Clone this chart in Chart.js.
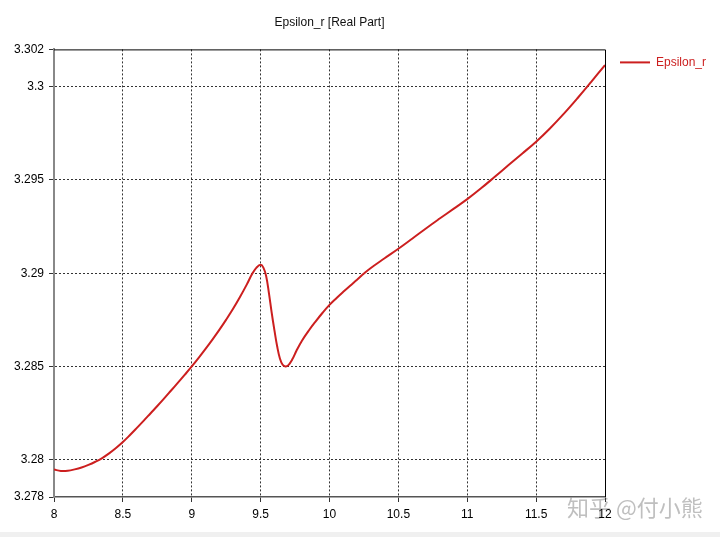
<!DOCTYPE html>
<html>
<head>
<meta charset="utf-8">
<title>Epsilon_r [Real Part]</title>
<script src="https://cdn.jsdelivr.net/npm/chart.js@4/dist/chart.umd.min.js"></script>
<style>
  html, body { margin: 0; padding: 0; background: #fff; }
  #wrap { width: 720px; height: 537px; background: #f0f0f0; }
  canvas { display: block; background: #fff; }
</style>
</head>
<body>
<div id="wrap"><canvas id="chart" width="720" height="532"></canvas></div>
<script>
// ── Data ──────────────────────────────────────────────────────
const seriesLabel = 'Epsilon_r';
const chartTitle  = 'Epsilon_r [Real Part]';

const freqGHz = [
  8.00, 8.05, 8.10, 8.15, 8.20, 8.25, 8.30, 8.35, 8.40, 8.45,
  8.50, 8.55, 8.60, 8.65, 8.70, 8.75, 8.80, 8.85, 8.90, 8.95,
  9.00, 9.05, 9.10, 9.15, 9.20, 9.25, 9.30, 9.35, 9.40, 9.44,
  9.47, 9.50, 9.52, 9.54, 9.56, 9.58, 9.60, 9.62, 9.64, 9.66,
  9.68, 9.70, 9.73, 9.76, 9.80, 9.85, 9.90, 9.95, 10.00, 10.05,
  10.10, 10.15, 10.20, 10.25, 10.30, 10.40, 10.50, 10.60, 10.70, 10.80,
  10.90, 11.00, 11.10, 11.20, 11.30, 11.40, 11.50, 11.60, 11.70, 11.80,
  11.90, 12.00,
];

const epsReal = [
  3.27947, 3.27940, 3.27941, 3.27948, 3.27958, 3.27972, 3.27989, 3.28009, 3.28034, 3.28063,
  3.28095, 3.28131, 3.28169, 3.28208, 3.28248, 3.28288, 3.28329, 3.28371, 3.28413, 3.28456,
  3.28500, 3.28546, 3.28594, 3.28644, 3.28696, 3.28751, 3.28809, 3.28872, 3.28940, 3.28998,
  3.29030, 3.29045, 3.29030, 3.28985, 3.28895, 3.28790, 3.28695, 3.28608, 3.28543, 3.28509,
  3.28500, 3.28506, 3.28538, 3.28584, 3.28638, 3.28693, 3.28742, 3.28788, 3.28830, 3.28866,
  3.28900, 3.28933, 3.28965, 3.28998, 3.29028, 3.29080, 3.29131, 3.29185, 3.29240, 3.29293,
  3.29345, 3.29397, 3.29455, 3.29517, 3.29580, 3.29642, 3.29705, 3.29776, 3.29854, 3.29938,
  3.30026, 3.30116,
];

const xTicks = [8, 8.5, 9, 9.5, 10, 10.5, 11, 11.5, 12];
const yTicks = [3.278, 3.28, 3.285, 3.29, 3.295, 3.3, 3.302];

const watermark = '知乎 @付小熊';

// ── Style ─────────────────────────────────────────────────────
const LINE_COLOR = '#cc1f1f';
const GRID_COLOR = '#333';
const FONT       = 'Liberation Sans, Arial, sans-serif';

const xMin = xTicks[0], xMax = xTicks[xTicks.length - 1];
const yMin = yTicks[0], yMax = yTicks[yTicks.length - 1];

// grid lines hidden on the frame edges (frame is drawn solid)
const edgeAware = (lo, hi, color) => ctx =>
  (ctx.tick && (ctx.tick.value === lo || ctx.tick.value === hi)) ? 'rgba(0,0,0,0)' : color;

// watermark sits under the axis labels
const watermarkPlugin = {
  id: 'watermark',
  beforeDraw(chart) {
    const { ctx } = chart;
    ctx.save();
    ctx.fillStyle = 'rgba(175,175,175,0.8)';
    ctx.font = '22px "Noto Sans CJK SC", sans-serif';
    ctx.textBaseline = 'middle';
    ctx.fillText(watermark, 567, 508);
    ctx.restore();
  },
};

// solid frame on top / right, legend at the right
const framePlugin = {
  id: 'frame',
  afterDraw(chart) {
    const { ctx, chartArea: a } = chart;
    ctx.save();
    ctx.strokeStyle = '#000';
    ctx.lineWidth = 1;
    ctx.beginPath();
    ctx.moveTo(a.left, a.top + 0.5);
    ctx.lineTo(a.right + 0.5, a.top + 0.5);
    ctx.lineTo(a.right + 0.5, a.bottom);
    ctx.stroke();

    const ds = chart.data.datasets[0];
    const ly = a.top + 13;
    ctx.strokeStyle = ds.borderColor;
    ctx.lineWidth = 2;
    ctx.beginPath();
    ctx.moveTo(a.right + 15, ly);
    ctx.lineTo(a.right + 45, ly);
    ctx.stroke();
    ctx.fillStyle = ds.borderColor;
    ctx.font = '12px ' + FONT;
    ctx.textBaseline = 'middle';
    ctx.fillText(ds.label, a.right + 51, ly);
    ctx.restore();
  },
};

new Chart(document.getElementById('chart'), {
  type: 'line',
  data: {
    datasets: [{
      label: seriesLabel,
      data: freqGHz.map((f, i) => ({ x: f, y: epsReal[i] })),
      borderColor: LINE_COLOR,
      borderWidth: 2,
      pointRadius: 0,
      tension: 0.4,
      fill: false,
    }],
  },
  options: {
    responsive: false,
    animation: false,
    layout: { padding: { left: 0, right: 115, top: 0, bottom: 0 } },
    plugins: {
      legend: { display: false },
      tooltip: { enabled: false },
      title: {
        display: true,
        text: chartTitle,
        fullSize: false,
        color: '#111',
        font: { family: FONT, size: 12, weight: 'normal' },
        padding: { top: 15, bottom: 20 },
      },
    },
    scales: {
      x: {
        type: 'linear',
        min: xMin,
        max: xMax,
        afterBuildTicks: s => { s.ticks = xTicks.map(v => ({ value: v })); },
        afterFit: s => { s.height = 35; },
        ticks: {
          color: '#000',
          padding: 5,
          maxRotation: 0,
          autoSkip: false,
          font: { family: FONT, size: 12 },
          callback: v => String(v),
        },
        grid: {
          color: edgeAware(xMin, xMax, GRID_COLOR),
          lineWidth: 1,
          tickLength: 5,
          tickColor: '#333',
          tickWidth: 1,
        },
        border: { color: '#555', width: 1.5, dash: [2, 2] },
      },
      y: {
        type: 'linear',
        min: yMin,
        max: yMax,
        afterBuildTicks: s => { s.ticks = yTicks.map(v => ({ value: v })); },
        afterFit: s => { s.width = 54; },
        ticks: {
          color: '#000',
          padding: 5,
          autoSkip: false,
          font: { family: FONT, size: 12 },
          callback: v => String(v),
        },
        grid: {
          color: edgeAware(yMin, yMax, GRID_COLOR),
          lineWidth: 1,
          tickLength: 5,
          tickColor: '#333',
          tickWidth: 1,
        },
        border: { color: '#888', width: 2, dash: [2, 2] },
      },
    },
  },
  plugins: [watermarkPlugin, framePlugin],
});
</script>
</body>
</html>
